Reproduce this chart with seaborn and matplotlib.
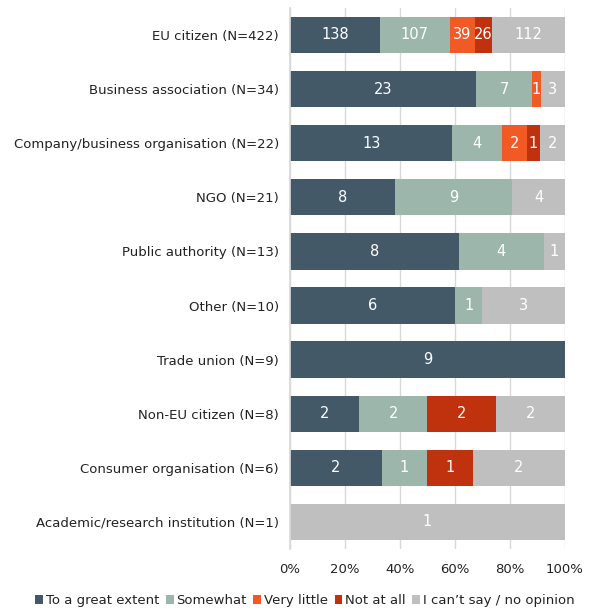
import numpy as np
import pandas as pd
import matplotlib
matplotlib.use("Agg")
import matplotlib.pyplot as plt
from matplotlib.patches import Patch
import seaborn as sns

groups = [
    "EU citizen (N=422)",
    "Business association (N=34)",
    "Company/business organisation (N=22)",
    "NGO (N=21)",
    "Public authority (N=13)",
    "Other (N=10)",
    "Trade union (N=9)",
    "Non-EU citizen (N=8)",
    "Consumer organisation (N=6)",
    "Academic/research institution (N=1)",
]
answers = ["To a great extent", "Somewhat", "Very little", "Not at all",
           "I can\u2019t say / no opinion"]
great_extent = [138, 23, 13, 8, 8, 6, 9, 2, 2, 0]
somewhat     = [107, 7, 4, 9, 4, 1, 0, 2, 1, 0]
very_little  = [39, 1, 2, 0, 0, 0, 0, 0, 0, 0]
not_at_all   = [26, 0, 1, 0, 0, 0, 0, 2, 1, 0]
no_opinion   = [112, 3, 2, 4, 1, 3, 0, 2, 2, 1]
colors = ["#445968", "#9cb6ab", "#f15a24", "#c0320e", "#bfbfbf"]
xticks = [0, 20, 40, 60, 80, 100]

counts = np.array([great_extent, somewhat, very_little, not_at_all, no_opinion], dtype=float)
pct = counts / counts.sum(axis=0) * 100
cum = np.cumsum(pct, axis=0)

sns.set_theme(style="white")
plt.rcParams["font.family"] = ["DejaVu Sans"]

fig = plt.figure(figsize=(5.92, 6.10), dpi=100)
ax = fig.add_axes([0.49, 0.10, 0.464, 0.887])

# stack by overlaying cumulative bars, widest first
for k in range(len(answers) - 1, -1, -1):
    df = pd.DataFrame({"group": groups, "value": cum[k]})
    sns.barplot(data=df, x="value", y="group", color=colors[k], saturation=1,
                width=0.67, ax=ax, zorder=2, linewidth=0)

# counts inside each segment
for k in range(len(answers)):
    for i in range(len(groups)):
        if counts[k, i] > 0:
            xc = cum[k, i] - pct[k, i] / 2
            ax.text(xc, i, f"{int(counts[k, i])}", ha="center", va="center",
                    color="white", fontsize=10.5, zorder=3)

ax.set_xlim(0, 100)
ax.set_ylim(len(groups) - 0.5, -0.5)
ax.set_xticks(xticks)
ax.set_xticklabels([f"{t}%" for t in xticks])
ax.set_xlabel("")
ax.set_ylabel("")
ax.grid(axis="x", color="#d9d9d9", linewidth=1, zorder=0)
ax.set_axisbelow(True)
for s in ["top", "right", "bottom"]:
    ax.spines[s].set_visible(False)
ax.spines["left"].set_color("#d9d9d9")
ax.tick_params(axis="x", length=0, pad=10, labelsize=9.5, colors="#222222")
ax.tick_params(axis="y", length=0, pad=8, labelsize=9.5, colors="#222222")

handles = [Patch(facecolor=c, edgecolor="none") for c in colors]
fig.legend(handles, answers, loc="lower center", bbox_to_anchor=(0.515, -0.015),
           ncol=5, frameon=False, fontsize=9.5, handlelength=0.6, handleheight=0.6,
           handletextpad=0.2, columnspacing=0.5, labelcolor="#222222")

fig.savefig("out.png", dpi=100)
